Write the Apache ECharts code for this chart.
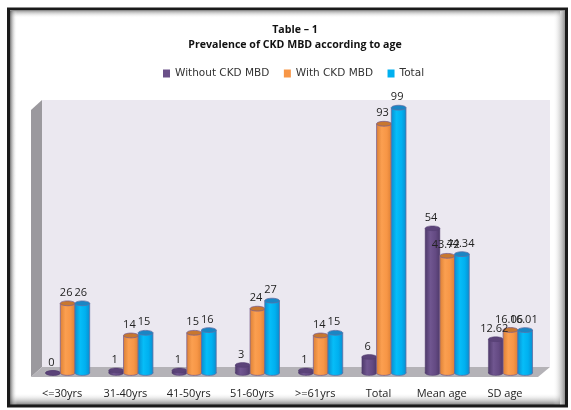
<!DOCTYPE html>
<html>
<head>
<meta charset="utf-8">
<style>html,body{margin:0;padding:0;background:#fff}#c{width:571px;height:410px}</style>
<script src="https://cdn.jsdelivr.net/npm/echarts@6/dist/echarts.min.js"></script>
</head>
<body>
<div id="c"></div>
<script>
// Prevalence of CKD MBD by age band
const categories = ['<=30yrs', '31-40yrs', '41-50yrs', '51-60yrs', '>=61yrs', 'Total', 'Mean age', 'SD age'];
const withoutMbd = [0, 1, 1, 3, 1, 6, 54, 12.62];
const withMbd = [26, 14, 15, 24, 14, 93, 43.72, 16.06];
const totals = [26, 15, 16, 27, 15, 99, 44.34, 16.01];

const BAR_W = 14.7;
const LABEL_FONT = '"Open Sans", sans-serif';

function cyl(edge, mid, light) {
  return {
    type: 'linear', x: 0, y: 0, x2: 1, y2: 0,
    colorStops: [
      { offset: 0, color: edge }, { offset: 0.35, color: light },
      { offset: 0.7, color: mid }, { offset: 1, color: edge }
    ]
  };
}
const palette = [
  { key: '#6a5088', body: cyl('#4f3a6b', '#644a83', '#705690'), cap: '#5b4379', line: 'rgba(80,60,110,0.6)' },
  { key: '#f79646', body: cyl('#dd8136', '#f79646', '#fb9f50'), cap: '#c8772f', line: '#7a5f8e' },
  { key: '#00b0f0', body: cyl('#0a8fd0', '#00b0f0', '#06bdf8'), cap: '#1a86c4', line: '#5f6fa5' }
];

// Draws one cylinder and its value label, offset within the category band
function cylinder(seriesPos) {
  return function (params, api) {
    const idx = api.value(0);
    const val = api.value(1);
    const top = api.coord([idx, val]);
    const base = api.coord([idx, 0]);
    const cx = top[0] + 5.5 + (seriesPos - 1) * BAR_W;
    const p = palette[seriesPos];
    const rx = BAR_W / 2;
    const ry = 2.4;
    const stroke = { stroke: p.line, lineWidth: 0.8 };
    return {
      type: 'group',
      children: [
        { type: 'ellipse', shape: { cx: cx, cy: base[1], rx: rx, ry: ry }, style: Object.assign({ fill: p.body }, stroke) },
        { type: 'rect', shape: { x: cx - rx, y: top[1], width: BAR_W, height: base[1] - top[1] }, style: { fill: p.body } },
        { type: 'line', shape: { x1: cx - rx, y1: top[1], x2: cx - rx, y2: base[1] }, style: stroke },
        { type: 'line', shape: { x1: cx + rx, y1: top[1], x2: cx + rx, y2: base[1] }, style: stroke },
        { type: 'ellipse', shape: { cx: cx, cy: top[1], rx: rx, ry: ry }, style: Object.assign({ fill: p.cap }, stroke) },
        {
          type: 'text', z2: 10,
          style: {
            x: cx - 1.5, y: top[1] - 10.5, text: String(val), align: 'center', verticalAlign: 'middle',
            fill: '#222', font: '11px ' + LABEL_FONT
          }
        }
      ]
    };
  };
}

function series(name, values, pos) {
  return {
    name: name, type: 'custom', renderItem: cylinder(pos), clip: false,
    itemStyle: { color: palette[pos].key },
    encode: { x: 0, y: 1 },
    data: values.map((v, i) => [i, v])
  };
}

function fade(x, y, w, h, horizontal, from, to) {
  return {
    type: 'rect', shape: { x: x, y: y, width: w, height: h }, silent: true,
    style: { fill: { type: 'linear', x: 0, y: 0, x2: horizontal ? 1 : 0, y2: horizontal ? 0 : 1,
      colorStops: [{ offset: 0, color: from }, { offset: 1, color: to }] } }
  };
}
const clear = 'rgba(255,255,255,0)';

const backdrop = [
  // Plot wall, side wall and floor
  { type: 'rect', shape: { x: 42, y: 100, width: 508, height: 267 }, style: { fill: '#ebe8f0' }, silent: true },
  { type: 'polygon', shape: { points: [[31, 110], [42, 100], [42, 367], [31, 377]] }, style: { fill: '#9b999e' }, silent: true },
  { type: 'polygon', shape: { points: [[42, 367], [550, 367], [538, 377], [31, 377]] }, style: { fill: '#b4b2b7' }, silent: true },
  // Picture frame with a soft inner shadow
  fade(10, 11, 550, 7, false, 'rgba(90,90,90,0.55)', clear),
  fade(10, 393, 550, 12, false, clear, 'rgba(70,70,70,0.7)'),
  fade(10, 11, 7, 394, true, 'rgba(70,70,70,0.75)', clear),
  fade(553, 11, 13, 394, true, clear, 'rgba(70,70,70,0.7)'),
  { type: 'rect', shape: { x: 8.5, y: 9, width: 558, height: 397 }, style: { fill: 'none', stroke: '#1a1a1a', lineWidth: 3 }, silent: true }
];

const chart = echarts.init(document.getElementById('c'), null, { renderer: 'canvas' });
chart.setOption({
  animation: false,
  backgroundColor: '#fff',
  title: {
    text: 'Table – 1\nPrevalence of CKD MBD according to age',
    left: 290, top: 17, textAlign: 'center',
    textStyle: { fontFamily: 'Open Sans', fontSize: 10.6, fontWeight: 'bold', color: '#111', lineHeight: 15 }
  },
  legend: {
    left: 158, top: 63, itemWidth: 7, itemHeight: 8, itemGap: 14.5,
    icon: 'rect',
    textStyle: { fontFamily: 'DejaVu Sans', fontSize: 10.5, color: '#333' },
    data: ['Without CKD MBD', 'With CKD MBD', 'Total']
  },
  grid: { left: 30.5, right: 34.4, top: 78.2, bottom: 37 },
  xAxis: {
    type: 'category', data: categories,
    axisLine: { show: false }, axisTick: { show: false },
    axisLabel: { interval: 0, margin: 15, fontFamily: LABEL_FONT, fontSize: 11, color: '#222' }
  },
  yAxis: { type: 'value', min: 0, max: 110, show: false },
  graphic: { elements: backdrop },
  series: [
    series('Without CKD MBD', withoutMbd, 0),
    series('With CKD MBD', withMbd, 1),
    series('Total', totals, 2)
  ]
});
</script>
</body>
</html>
